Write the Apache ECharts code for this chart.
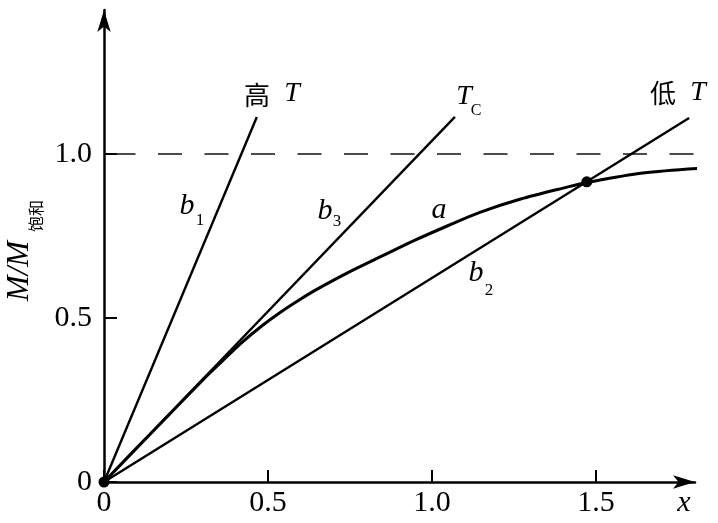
<!DOCTYPE html>
<html>
<head>
<meta charset="utf-8">
<script src="https://cdn.jsdelivr.net/npm/echarts@6/dist/echarts.min.js"></script>
<style>
html,body{margin:0;padding:0;background:#fff;}
#c{width:718px;height:523px;}
</style>
</head>
<body>
<div id="c"></div>
<script>
// ---- data ----
const xTicks = [0, 0.5, 1.0, 1.5];
const yTicks = [0, 0.5, 1.0];
const lineB1 = [[0, 0], [0.466, 1.113]];          // 高 T
const lineB3 = [[0, 0], [1.070, 1.113]];          // T_C
const lineB2 = [[0, 0], [1.784, 1.110]];          // 低 T
const curveA = [[0, 0], [0.1, 0.104], [0.2, 0.207], [0.3, 0.31], [0.36, 0.368], [0.42, 0.425],
  [0.48, 0.475], [0.537, 0.517], [0.6, 0.558], [0.65, 0.588], [0.741, 0.637], [0.85, 0.69],
  [0.95, 0.738], [1.05, 0.782], [1.146, 0.822], [1.268, 0.862], [1.412, 0.899], [1.472, 0.913],
  [1.643, 0.942], [1.826, 0.957]];
const saturation = [[0, 1.0], [1.80, 1.0]];
const dotPoints = [[0, 0], [1.472, 0.915]];

const serif = '"Liberation Serif","DejaVu Serif",serif';
const cjk = '"Noto Sans CJK SC","Noto Sans CJK JP",sans-serif';

const chart = echarts.init(document.getElementById('c'), null, {renderer: 'canvas'});

function lineSeries(data, width, extra) {
  return Object.assign({
    type: 'line', data: data, showSymbol: false, symbol: 'none', clip: false, silent: true,
    lineStyle: {color: '#000', width: width}, z: 3, animation: false
  }, extra || {});
}

function txt(x, y, text, size, font, style, extra) {
  return Object.assign({
    type: 'text', x: x, y: y, silent: true,
    style: {text: text, fontSize: size, fontFamily: font, fontStyle: style || 'normal',
      fill: '#000', align: 'center', verticalAlign: 'middle'}
  }, extra || {});
}

const fmt = v => (v === 0 ? '0' : v.toFixed(1));

chart.setOption({
  backgroundColor: '#fff',
  animation: false,
  grid: {left: 104, top: 10, width: 591, height: 472},
  xAxis: {
    type: 'value', min: 0, max: 1.802,
    axisLine: {show: true, onZero: false, symbol: ['none', 'arrow'], symbolSize: [10, 22],
      lineStyle: {color: '#000', width: 2.5}},
    axisTick: {show: true, inside: true, length: 12, customValues: xTicks,
      lineStyle: {color: '#000', width: 2}},
    axisLabel: {show: true, customValues: xTicks, formatter: fmt, margin: 6,
      fontSize: 30, fontFamily: serif, color: '#000'},
    splitLine: {show: false}
  },
  yAxis: {
    type: 'value', min: 0, max: 1.439,
    axisLine: {show: true, onZero: false, symbol: ['none', 'arrow'], symbolSize: [10, 22],
      lineStyle: {color: '#000', width: 2.5}},
    axisTick: {show: true, inside: true, length: 13, customValues: yTicks,
      lineStyle: {color: '#000', width: 2}},
    axisLabel: {show: true, customValues: yTicks, formatter: fmt, margin: 12,
      fontSize: 30, fontFamily: serif, color: '#000'},
    splitLine: {show: false}
  },
  series: [
    lineSeries(saturation, 1.5, {lineStyle: {color: '#111', width: 1.5, type: [24, 22.5], dashOffset: 39}, z: 2}),
    lineSeries(lineB1, 2.4),
    lineSeries(lineB3, 2.4),
    lineSeries(lineB2, 2.4),
    lineSeries(curveA, 3, {smooth: 0.3}),
    {type: 'scatter', data: dotPoints, symbol: 'circle', symbolSize: 11, clip: false, silent: true,
      itemStyle: {color: '#000', opacity: 1}, z: 5, animation: false}
  ],
  graphic: [
    // y-axis name M/M饱和 (rotated)
    txt(20, 271, 'M/M', 31, serif, 'italic', {rotation: Math.PI / 2}),
    txt(36, 216, '饱和', 16, cjk, 'normal', {rotation: Math.PI / 2}),
    // x-axis name
    txt(684, 503, 'x', 30, serif, 'italic'),
    // 高 T
    txt(257, 95, '高', 26, cjk),
    txt(292, 94, 'T', 28, serif, 'italic'),
    // T_C
    txt(464, 97, 'T', 28, serif, 'italic'),
    txt(476, 111, 'C', 16, serif),
    // 低 T
    txt(663, 93, '低', 26, cjk),
    txt(698, 93, 'T', 28, serif, 'italic'),
    // b1
    txt(187, 206, 'b', 30, serif, 'italic'),
    txt(200, 221, '1', 17, serif),
    // b3
    txt(325, 211, 'b', 30, serif, 'italic'),
    txt(337, 222, '3', 17, serif),
    // a
    txt(439, 210, 'a', 30, serif, 'italic'),
    // b2
    txt(476, 273, 'b', 30, serif, 'italic'),
    txt(489, 291, '2', 17, serif)
  ]
});
</script>
</body>
</html>
